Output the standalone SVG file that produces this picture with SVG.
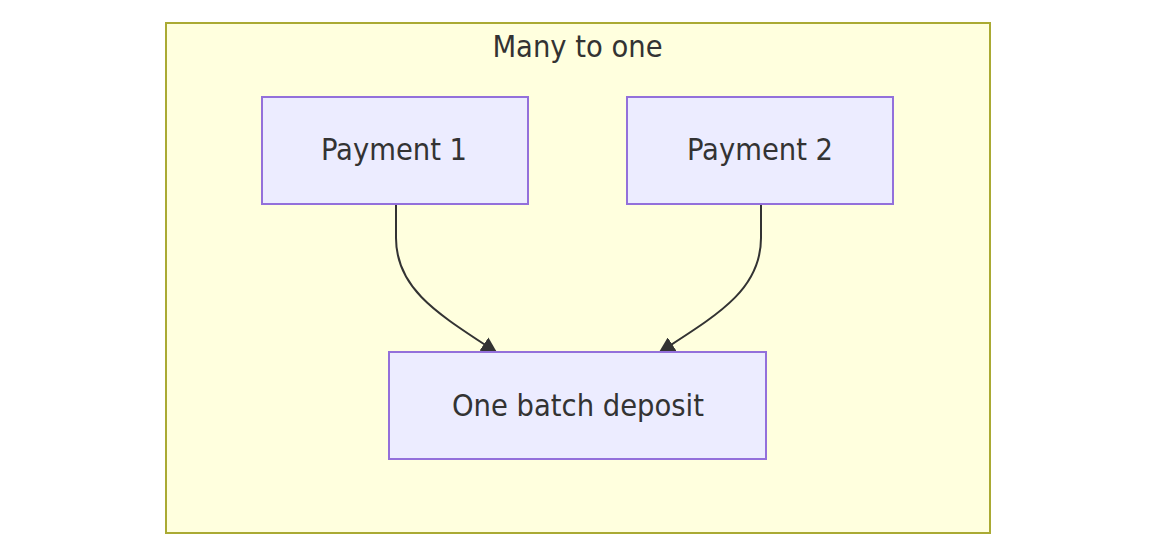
<svg xmlns="http://www.w3.org/2000/svg" width="1172" height="559" viewBox="0 0 1172 559">
<style>
.cluster{fill:#ffffde;stroke:#aaaa33;stroke-width:2}
.node rect{fill:#ececff;stroke:#9370db;stroke-width:2}
.lbl{font-family:"DejaVu Sans Condensed","DejaVu Sans",sans-serif;font-stretch:condensed;font-size:30.5px;fill:#333;text-anchor:middle}
.edge{fill:none;stroke:#333;stroke-width:2}
</style>
<defs>
<marker id="arrow" viewBox="0 0 10 10" refX="9" refY="5" markerUnits="userSpaceOnUse" markerWidth="16" markerHeight="16" orient="auto">
<path d="M0,0 L10,5 L0,10 z" fill="#333"/>
</marker>
</defs>
<g id="cluster-many">
<rect class="cluster" x="166" y="23" width="824" height="510"/>
<text class="lbl" x="577.5" y="57">Many to one</text>
</g>
<g id="connectors">
<path class="edge" d="M396,205 L396,238 C396,290 440,315 496,352" marker-end="url(#arrow)"/>
<path class="edge" d="M761,205 L761,238 C761,290 717,315 660,352" marker-end="url(#arrow)"/>
</g>
<g id="payment1" class="node">
<rect x="262" y="97" width="266" height="107"/>
<text class="lbl" x="394" y="160">Payment 1</text>
</g>
<g id="payment2" class="node">
<rect x="627" y="97" width="266" height="107"/>
<text class="lbl" x="760" y="160">Payment 2</text>
</g>
<g id="deposit" class="node">
<rect x="389" y="352" width="377" height="107"/>
<text class="lbl" x="578" y="416">One batch deposit</text>
</g>
</svg>
